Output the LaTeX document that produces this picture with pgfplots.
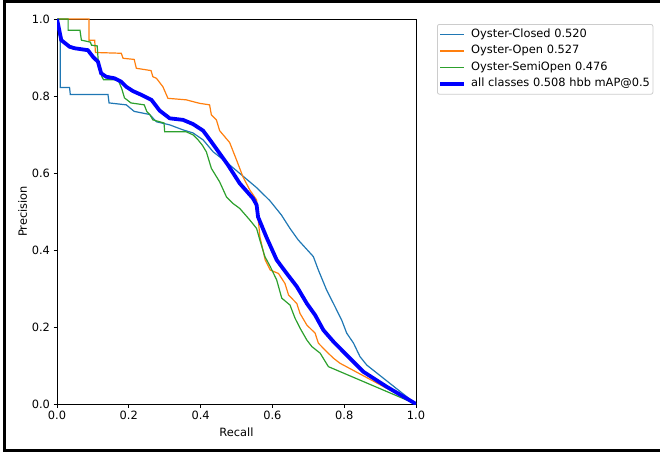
\documentclass[border=0pt]{standalone}
\usepackage{fontspec}
\setmainfont{DejaVu Sans}
\usepackage{pgfplots}
\pgfplotsset{compat=1.18}
\definecolor{cClosed}{HTML}{1F77B4}
\definecolor{cOpen}{HTML}{FF7F0E}
\definecolor{cSemi}{HTML}{2CA02C}
\definecolor{cAll}{HTML}{0000FF}
\definecolor{legframe}{HTML}{CCCCCC}
\begin{document}
\begin{tikzpicture}
\path[use as bounding box] (0,0) rectangle (660pt,453pt);
\begin{axis}[
  at={(57pt,49pt)}, anchor=south west,
  scale only axis, width=359pt, height=385pt,
  xmin=0, xmax=1, ymin=0, ymax=1,
  xtick={0,0.2,0.4,0.6,0.8,1.0},
  ytick={0,0.2,0.4,0.6,0.8,1.0},
  tick align=outside, xtick pos=bottom, ytick pos=left,
  major tick length=3.5pt,
  tick style={black, line width=0.8pt},
  axis line style={black, line width=0.8pt},
  /pgf/number format/assume math mode=true,
  xticklabel style={/pgf/number format/.cd, fixed, fixed zerofill, precision=1},
  yticklabel style={/pgf/number format/.cd, fixed, fixed zerofill, precision=1},
  ticklabel style={font=\fontsize{11.4}{13}\selectfont},
  xlabel={Recall}, ylabel={Precision},
  every axis x label/.style={at={(axis description cs:0.5,-0.0727)}, anchor=center, font=\fontsize{11.4}{13}\selectfont},
  every axis y label/.style={at={(axis description cs:-0.0961,0.5)}, rotate=90, anchor=center, font=\fontsize{11.4}{13}\selectfont},
  legend style={at={(axis description cs:1.0585,0.987)}, anchor=north west,
    draw=legframe, rounded corners=2pt, line width=0.8pt,
    font=\fontsize{11.4}{13}\selectfont,
    inner xsep=1pt, inner ysep=2.5pt, row sep=1.2pt,
    nodes={text height=8.5pt, text depth=2.8pt, inner sep=2pt},
    /tikz/every odd column/.append style={column sep=3pt}},
  legend cell align=left,
  legend image code/.code={\draw[#1] (0pt,0pt) -- (24pt,0pt);},
]
\addplot[cClosed, line width=1.2pt] coordinates {
(0,1.0) (0.009,0.94) (0.009,0.822) (0.035,0.822) (0.037,0.804) (0.142,0.804) (0.145,0.782)
(0.193,0.777) (0.215,0.76) (0.258,0.752) (0.277,0.733) (0.314,0.725) (0.351,0.712)
(0.379,0.704) (0.407,0.686) (0.435,0.655) (0.472,0.628) (0.509,0.599) (0.556,0.562)
(0.593,0.528) (0.625,0.491) (0.649,0.456) (0.672,0.426) (0.714,0.383) (0.728,0.348)
(0.751,0.296) (0.77,0.261) (0.793,0.218) (0.807,0.184) (0.826,0.158) (0.844,0.123)
(0.863,0.101) (1.0,0.0)
};
\addlegendentry{Oyster-Closed 0.520}
\addplot[cOpen, line width=1.2pt] coordinates {
(0,1.0) (0.089,1.0) (0.089,0.945) (0.105,0.945) (0.107,0.913) (0.179,0.911) (0.184,0.898)
(0.215,0.895) (0.221,0.872) (0.262,0.866) (0.267,0.85) (0.277,0.846) (0.295,0.824)
(0.309,0.794) (0.36,0.79) (0.397,0.781) (0.425,0.777) (0.43,0.751) (0.444,0.738)
(0.453,0.71) (0.481,0.679) (0.5,0.634) (0.518,0.59) (0.537,0.556) (0.556,0.53)
(0.56,0.486) (0.565,0.435) (0.58,0.374) (0.594,0.348) (0.617,0.339) (0.635,0.313)
(0.645,0.283) (0.668,0.261) (0.677,0.235) (0.696,0.205) (0.719,0.184) (0.728,0.158)
(0.751,0.136) (0.77,0.119) (0.788,0.106) (1.0,0.0)
};
\addlegendentry{Oyster-Open 0.527}
\addplot[cSemi, line width=1.2pt] coordinates {
(0,1.0) (0.031,1.0) (0.031,0.971) (0.064,0.971) (0.068,0.945) (0.093,0.94) (0.096,0.932)
(0.112,0.93) (0.115,0.889) (0.125,0.85) (0.13,0.842) (0.17,0.842) (0.18,0.82)
(0.188,0.795) (0.206,0.782) (0.243,0.777) (0.25,0.76) (0.259,0.751) (0.267,0.738)
(0.298,0.73) (0.3,0.707) (0.36,0.707) (0.379,0.699) (0.393,0.686) (0.405,0.672)
(0.416,0.655) (0.43,0.612) (0.453,0.577) (0.472,0.538) (0.49,0.521) (0.509,0.508)
(0.537,0.478) (0.556,0.456) (0.565,0.426) (0.579,0.383) (0.594,0.357) (0.612,0.322)
(0.626,0.275) (0.649,0.257) (0.663,0.223) (0.677,0.197) (0.696,0.166) (0.71,0.149)
(0.733,0.132) (0.756,0.097) (1.0,0.0)
};
\addlegendentry{Oyster-SemiOpen 0.476}
\addplot[cAll, line width=3.8pt] coordinates {
(0,1.0) (0.012,0.945) (0.035,0.928) (0.049,0.924) (0.086,0.919) (0.1,0.902) (0.114,0.889)
(0.123,0.859) (0.137,0.85) (0.16,0.846) (0.179,0.837) (0.193,0.824) (0.211,0.813)
(0.235,0.803) (0.263,0.79) (0.286,0.762) (0.314,0.742) (0.351,0.738) (0.379,0.727)
(0.407,0.71) (0.43,0.681) (0.453,0.651) (0.476,0.621) (0.509,0.573) (0.546,0.534)
(0.556,0.517) (0.56,0.486) (0.584,0.432) (0.612,0.374) (0.640,0.339) (0.668,0.305)
(0.696,0.261) (0.719,0.231) (0.742,0.192) (0.77,0.162) (0.807,0.127) (0.853,0.084)
(0.918,0.045) (1.0,0.0)
};
\addlegendentry{all classes 0.508 hbb mAP@0.5}
\end{axis}
\draw[line width=3pt] (665pt,451.6pt) -- (4.6pt,451.6pt) -- (4.6pt,3pt) -- (665pt,3pt);
\end{tikzpicture}
\end{document}
